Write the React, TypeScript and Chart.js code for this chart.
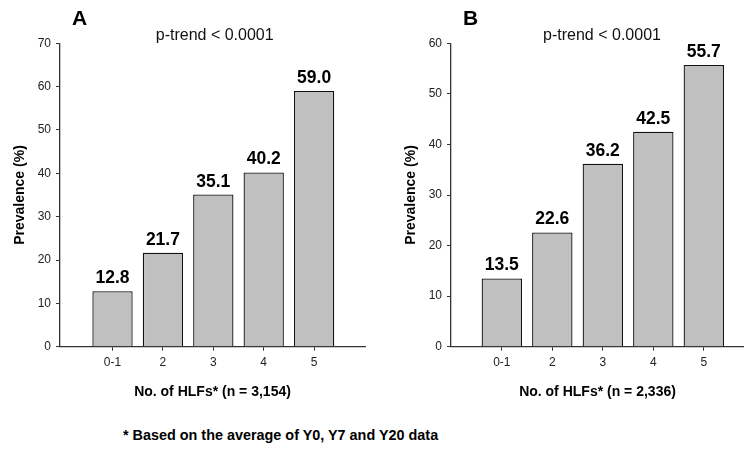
import React, { useEffect, useRef } from 'react';
import { Chart, registerables } from 'chart.js';

Chart.register(...registerables);

// ---- data ----
const categories = ['0-1', '2', '3', '4', '5'];
const prevalenceA = [12.8, 21.7, 35.1, 40.2, 59.0];
const prevalenceB = [13.5, 22.6, 36.2, 42.5, 55.7];
const yTicksMaxA = 70;
const yTicksMaxB = 60;
const yStep = 10;
const trendText = 'p-trend < 0.0001';
const xTitleA = 'No. of HLFs* (n = 3,154)';
const xTitleB = 'No. of HLFs* (n = 2,336)';
const yTitle = 'Prevalence (%)';
const footnote = '* Based on the average of Y0, Y7 and Y20 data';

const FONT = '"Liberation Sans", Arial, Helvetica, sans-serif';
const AXIS = '#333333';

type PanelProps = {
  letter: string;
  values: number[];
  yMax: number;
  xTitle: string;
  xMin: number;
  xMax: number;
  left: number;
  width: number;
  rightPad: number;
  trendX: number;
};

function Panel(p: PanelProps) {
  const ref = useRef<HTMLCanvasElement | null>(null);
  const H = 410;
  useEffect(() => {
    if (!ref.current) return;
    const textPlugin = {
      id: 'panelText',
      afterDraw(chart: any) {
        const ctx = chart.ctx;
        ctx.save();
        ctx.textBaseline = 'alphabetic';
        ctx.fillStyle = '#000';
        ctx.font = `bold 21px ${FONT}`;
        ctx.textAlign = 'left';
        ctx.fillText(p.letter, 72, 25);
        ctx.font = `16px ${FONT}`;
        ctx.fillStyle = '#111';
        ctx.textAlign = 'center';
        ctx.fillText(trendText, p.trendX, 40);
        const meta = chart.getDatasetMeta(0);
        ctx.font = `bold 17.5px ${FONT}`;
        ctx.fillStyle = '#000';
        meta.data.forEach((el: any, i: number) => {
          ctx.fillText(p.values[i].toFixed(1), el.x, el.y - 8);
        });
        ctx.restore();
      },
    };
    const chart = new Chart(ref.current, {
      type: 'bar',
      data: {
        datasets: [
          {
            data: p.values.map((v, i) => ({ x: i, y: v })),
            backgroundColor: '#c0c0c0',
            borderColor: '#111111',
            borderWidth: 1.3,
            barPercentage: 0.8,
            categoryPercentage: 1,
          } as any,
        ],
      },
      options: {
        responsive: false,
        devicePixelRatio: 1,
        animation: false,
        layout: { padding: { top: 43.3, right: p.rightPad, bottom: 0, left: 0 } },
        plugins: { legend: { display: false }, tooltip: { enabled: false }, title: { display: false } },
        scales: {
          x: {
            type: 'linear',
            offset: false,
            min: p.xMin,
            max: p.xMax,
            afterBuildTicks: (s: any) => {
              s.ticks = categories.map((_, i) => ({ value: i }));
            },
            afterFit: (s: any) => {
              s.height = H - 346.7;
            },
            ticks: {
              autoSkip: false,
              maxRotation: 0,
              padding: 5,
              color: '#222',
              font: { family: FONT, size: 12 },
              callback: (v: any) => categories[v as number] ?? '',
            },
            grid: { offset: false, drawOnChartArea: false, drawTicks: true, tickLength: 4, color: AXIS, lineWidth: 1 },
            border: { display: true, color: AXIS, width: 1.3 },
            title: {
              display: true,
              text: p.xTitle,
              color: '#000',
              font: { family: FONT, size: 14, weight: 'bold' },
              padding: { top: 0, bottom: 9.6 },
            },
          },
          y: {
            type: 'linear',
            min: 0,
            max: p.yMax,
            afterFit: (s: any) => {
              s.width = 60;
            },
            ticks: {
              stepSize: yStep,
              padding: 5,
              color: '#222',
              font: { family: FONT, size: 12 },
            },
            grid: { drawOnChartArea: false, drawTicks: true, tickLength: 4, color: AXIS, lineWidth: 1 },
            border: { display: true, color: AXIS, width: 1.3 },
            title: {
              display: true,
              text: yTitle,
              color: '#000',
              font: { family: FONT, size: 14, weight: 'bold' },
              padding: { top: 11.6, bottom: 0 },
            },
          },
        },
      } as any,
      plugins: [textPlugin],
    });
    return () => chart.destroy();
  }, []);
  return (
    <canvas
      ref={ref}
      width={p.width}
      height={H}
      style={{ position: 'absolute', left: p.left, top: 0, width: p.width, height: H, display: 'block' }}
    />
  );
}

export default function App() {
  return (
    <div
      style={{
        position: 'fixed',
        left: 0,
        top: 0,
        width: 744,
        height: 453,
        overflow: 'hidden',
        background: '#fff',
        fontFamily: FONT,
      }}
    >
      <Panel
        letter="A"
        values={prevalenceA}
        yMax={yTicksMaxA}
        xTitle={xTitleA}
        xMin={-1.042}
        xMax={5.01}
        left={0}
        width={372}
        rightPad={7}
        trendX={214.7}
      />
      <Panel
        letter="B"
        values={prevalenceB}
        yMax={yTicksMaxB}
        xTitle={xTitleB}
        xMin={-1.006}
        xMax={4.796}
        left={391}
        width={353}
        rightPad={0}
        trendX={211}
      />
      <div
        style={{
          position: 'absolute',
          left: 123,
          top: 428,
          fontSize: 14.4,
          lineHeight: '14px',
          fontWeight: 'bold',
          color: '#000',
          whiteSpace: 'nowrap',
        }}
      >
        {footnote}
      </div>
    </div>
  );
}
